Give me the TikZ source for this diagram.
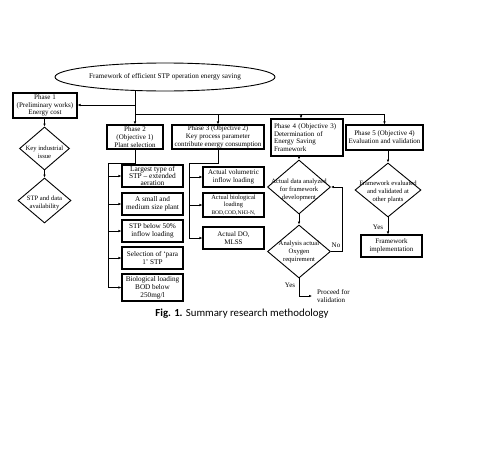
\documentclass[tikz,border=0pt]{standalone}
\usepackage{fontspec}
\setmainfont{Liberation Serif}
\newfontfamily\capfont{Carlito}
\usetikzlibrary{shapes.geometric,arrows.meta}

\tikzset{
  box/.style={draw=black, line width=1.1pt, rectangle, inner sep=1pt, align=center, font=\fontsize{7}{7.8}\selectfont},
  dia/.style={draw=black, line width=0.9pt, diamond, inner sep=0pt},
  diatext/.style={align=center, inner sep=0pt, font=\fontsize{6.6}{7.6}\selectfont},
  lbl/.style={font=\fontsize{7}{7.8}\selectfont, inner sep=0pt},
  arr/.style={-{Latex[length=3pt,width=2.6pt]}, line width=0.7pt},
  ln/.style={line width=0.7pt}
}

\begin{document}
\begin{tikzpicture}[x=1pt,y=-1pt]
    \useasboundingbox (0,0) rectangle (480,458);

    % top of the framework
    \node[draw=black, line width=0.9pt, ellipse, minimum width=220pt, minimum height=28pt, inner sep=0pt, font=\fontsize{7.2}{8}\selectfont] (ell) at (165,77) {Framework of efficient STP operation energy saving};

    % phases
    \node[box, minimum width=64pt, minimum height=25pt] (ph1) at (45,105.5) {Phase 1\\(Preliminary works)\\Energy cost};
    \node[box, minimum width=56pt, minimum height=24pt] (ph2) at (135,137) {Phase 2\\(Objective 1)\\Plant selection};
    \node[box, minimum width=92pt, minimum height=24pt] (ph3) at (218,137) {Phase 3 (Objective 2)\\Key process parameter\\contribute energy consumption};
    \node[box, minimum width=72pt, minimum height=37pt, align=left, text width=66pt, font=\fontsize{7}{7.5}\selectfont] (ph4) at (307,137.5) {Phase 4 (Objective 3)\\Determination of\\Energy Saving\\Framework};
    \node[box, minimum width=77pt, minimum height=25pt] (ph5) at (384.5,137.5) {Phase 5 (Objective 4)\\Evaluation and validation};

    % phase 1 column
    \node[dia, minimum width=50pt, minimum height=43pt] (d1) at (44.5,148.5) {};
    \node[diatext] (d1t) at (44.5,152) {Key industrial\\issue};
    \node[dia, minimum width=53pt, minimum height=45pt] (d2) at (44.5,200.5) {};
    \node[diatext] (d2t) at (44.5,203) {STP and data\\availability};

    % phase 2 column
    \node[box, minimum width=61pt, minimum height=20pt, font=\fontsize{7.4}{7.4}\selectfont] (s1) at (152.5,176) {Largest type of\\STP -- extended\\aeration};
    \node[box, minimum width=61pt, minimum height=22pt, font=\fontsize{7.2}{8.2}\selectfont] (s2) at (152.5,204) {A small and\\medium size plant};
    \node[box, minimum width=61pt, minimum height=22pt, font=\fontsize{7.2}{8.2}\selectfont] (s3) at (152.5,231) {STP below 50\%\\inflow loading};
    \node[box, minimum width=61pt, minimum height=22pt, font=\fontsize{7.2}{8.2}\selectfont] (s4) at (152.5,258) {Selection of `para\\1' STP};
    \node[box, minimum width=61pt, minimum height=27pt, font=\fontsize{7.2}{8.2}\selectfont] (s5) at (152.5,287.5) {Biological loading\\BOD below\\250mg/l};

    % phase 3 column
    \node[box, minimum width=61pt, minimum height=20pt] (k1) at (233.5,177) {Actual volumetric\\inflow loading};
    \node[box, minimum width=61pt, minimum height=24pt, font=\fontsize{6.4}{7.2}\selectfont] (k2) at (233.5,205) {Actual biological\\loading\\{\fontsize{5.5}{6}\selectfont BOD,COD,NH3-N,}};
    \node[box, minimum width=61pt, minimum height=22pt] (k3) at (233.5,238) {Actual DO,\\MLSS};

    % phase 4 column
    \node[dia, minimum width=63pt, minimum height=54pt] (a1) at (299,187) {};
    \node[diatext] (a1t) at (299,190) {Actual data analyzed\\for framework\\development};
    \node[dia, minimum width=63pt, minimum height=53pt] (a2) at (299,251.5) {};
    \node[diatext] (a2t) at (299,252) {Analysis actual\\Oxygen\\requirement};
    \node[lbl, anchor=west, align=left] (pv) at (317,296) {Proceed for\\validation};
    \coordinate (pvend) at (312,296);

    % phase 5 column
    \node[dia, minimum width=66pt, minimum height=54pt] (e1) at (388,190) {};
    \node[diatext] (e1t) at (388,192) {Framework evaluated\\and validated at\\other plants};
    \node[box, minimum width=61pt, minimum height=22pt] (fi) at (391.5,246) {Framework\\implementation};

    % connectors from the top
    \coordinate (j1) at (135,105);
    \coordinate (j2) at (135,114);
    \coordinate (j3) at (384.5,114);
    \coordinate (j4) at (301,114);
    \draw[arr] (ph2.north |- ell.south) -- (ph2.north);
    \draw[arr] (j1) -- (ph1.east |- j1);
    \draw[ln] (j2) -- (j3);
    \draw[arr] (j3) -- (ph5.north);
    \draw[arr] (ph3.north |- j2) -- (ph3.north);
    \draw[arr] (j4) -- (j4 |- ph4.north);

    % phase 1
    \draw[arr] (ph1.south -| d1.north) -- (d1.north);
    \draw[arr] (d1.south) -- (d2.north);

    % phase 2 tree
    \coordinate (t2) at (108,163);
    \draw[ln] (ph2.south) |- (t2) -- (t2 |- s5.west);
    \foreach \n in {s1,s2,s3,s4,s5}
        \draw[arr] (t2 |- \n.west) -- (\n.west);

    % phase 3 tree
    \coordinate (t3) at (189,163);
    \draw[ln] (ph3.south) |- (t3) -- (t3 |- k3.west);
    \foreach \n in {k1,k2,k3}
        \draw[arr] (t3 |- \n.west) -- (\n.west);

    % phase 4
    \draw[arr] (a1.north |- ph4.south) -- (a1.north);
    \draw[arr] (a1.south) -- (a2.north);
    \draw[arr] (a2.east) -- ++(11,0) |- (a1.east);
    \node[lbl] (no) at (336,245) {No};
    \draw[arr] (a2.south) |- (pvend);
    \node[lbl] (yes1) at (290,285) {Yes};

    % phase 5
    \draw[arr] (ph5.south -| e1.north) -- (e1.north);
    \draw[arr] (e1.south) -- (e1.south |- fi.north);
    \node[lbl] (yes2) at (378,227) {Yes};

    % caption
    \node[font=\capfont\fontsize{10.8}{12}\selectfont] (cap) at (242,314) {\textbf{Fig. 1.} Summary research methodology};
\end{tikzpicture}
\end{document}
